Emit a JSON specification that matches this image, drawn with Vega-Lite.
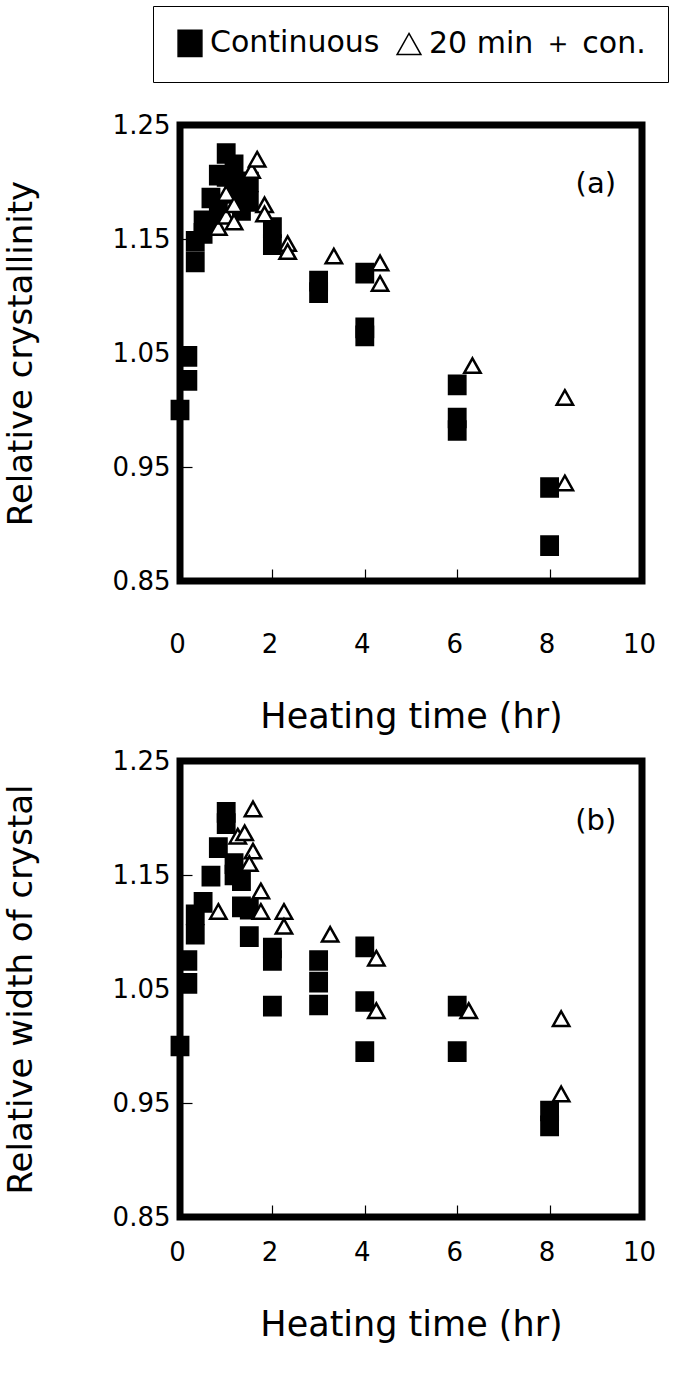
{
  "$schema": "https://vega.github.io/schema/vega-lite/v6.json",
  "background": "white",
  "padding": {"left": 0, "top": 5, "right": 5, "bottom": 5},
  "datasets": {
    "a": [
      {"series": "Continuous", "time": 0, "value": 1.0},
      {"series": "Continuous", "time": 0.17, "value": 1.047},
      {"series": "Continuous", "time": 0.17, "value": 1.026},
      {"series": "Continuous", "time": 0.33, "value": 1.148},
      {"series": "Continuous", "time": 0.33, "value": 1.13},
      {"series": "Continuous", "time": 0.5, "value": 1.166},
      {"series": "Continuous", "time": 0.5, "value": 1.155},
      {"series": "Continuous", "time": 0.67, "value": 1.186},
      {"series": "Continuous", "time": 0.67, "value": 1.165},
      {"series": "Continuous", "time": 0.83, "value": 1.206},
      {"series": "Continuous", "time": 0.83, "value": 1.175},
      {"series": "Continuous", "time": 1.0, "value": 1.225},
      {"series": "Continuous", "time": 1.0, "value": 1.205},
      {"series": "Continuous", "time": 1.17, "value": 1.215},
      {"series": "Continuous", "time": 1.17, "value": 1.19},
      {"series": "Continuous", "time": 1.33, "value": 1.2},
      {"series": "Continuous", "time": 1.33, "value": 1.175},
      {"series": "Continuous", "time": 1.5, "value": 1.2},
      {"series": "Continuous", "time": 1.5, "value": 1.183},
      {"series": "Continuous", "time": 2, "value": 1.16},
      {"series": "Continuous", "time": 2, "value": 1.145},
      {"series": "Continuous", "time": 3, "value": 1.113},
      {"series": "Continuous", "time": 3, "value": 1.103},
      {"series": "Continuous", "time": 4, "value": 1.12},
      {"series": "Continuous", "time": 4, "value": 1.072},
      {"series": "Continuous", "time": 4, "value": 1.065},
      {"series": "Continuous", "time": 6, "value": 1.022},
      {"series": "Continuous", "time": 6, "value": 0.993},
      {"series": "Continuous", "time": 6, "value": 0.982},
      {"series": "Continuous", "time": 8, "value": 0.932},
      {"series": "Continuous", "time": 8, "value": 0.881},
      {"series": "20 min ＋ con.", "time": 0.83, "value": 1.16},
      {"series": "20 min ＋ con.", "time": 1.0, "value": 1.17},
      {"series": "20 min ＋ con.", "time": 1.17, "value": 1.165},
      {"series": "20 min ＋ con.", "time": 1.0, "value": 1.19},
      {"series": "20 min ＋ con.", "time": 1.17, "value": 1.18},
      {"series": "20 min ＋ con.", "time": 1.55, "value": 1.21},
      {"series": "20 min ＋ con.", "time": 1.67, "value": 1.22},
      {"series": "20 min ＋ con.", "time": 1.83, "value": 1.18},
      {"series": "20 min ＋ con.", "time": 1.83, "value": 1.172},
      {"series": "20 min ＋ con.", "time": 2.33, "value": 1.146},
      {"series": "20 min ＋ con.", "time": 2.33, "value": 1.139},
      {"series": "20 min ＋ con.", "time": 3.33, "value": 1.135},
      {"series": "20 min ＋ con.", "time": 4.33, "value": 1.129},
      {"series": "20 min ＋ con.", "time": 4.33, "value": 1.111},
      {"series": "20 min ＋ con.", "time": 6.33, "value": 1.039},
      {"series": "20 min ＋ con.", "time": 8.33, "value": 1.011},
      {"series": "20 min ＋ con.", "time": 8.33, "value": 0.936}
    ],
    "b": [
      {"series": "Continuous", "time": 0, "value": 1.0},
      {"series": "Continuous", "time": 0.17, "value": 1.075},
      {"series": "Continuous", "time": 0.17, "value": 1.055},
      {"series": "Continuous", "time": 0.33, "value": 1.115},
      {"series": "Continuous", "time": 0.33, "value": 1.098},
      {"series": "Continuous", "time": 0.5, "value": 1.126},
      {"series": "Continuous", "time": 0.67, "value": 1.149},
      {"series": "Continuous", "time": 0.83, "value": 1.174},
      {"series": "Continuous", "time": 1.0, "value": 1.205},
      {"series": "Continuous", "time": 1.0, "value": 1.195},
      {"series": "Continuous", "time": 1.17, "value": 1.16},
      {"series": "Continuous", "time": 1.17, "value": 1.15},
      {"series": "Continuous", "time": 1.33, "value": 1.145},
      {"series": "Continuous", "time": 1.33, "value": 1.122},
      {"series": "Continuous", "time": 1.5, "value": 1.12},
      {"series": "Continuous", "time": 1.5, "value": 1.096},
      {"series": "Continuous", "time": 2, "value": 1.086},
      {"series": "Continuous", "time": 2, "value": 1.075},
      {"series": "Continuous", "time": 2, "value": 1.035},
      {"series": "Continuous", "time": 3, "value": 1.075},
      {"series": "Continuous", "time": 3, "value": 1.056},
      {"series": "Continuous", "time": 3, "value": 1.036},
      {"series": "Continuous", "time": 4, "value": 1.087},
      {"series": "Continuous", "time": 4, "value": 1.039},
      {"series": "Continuous", "time": 4, "value": 0.995},
      {"series": "Continuous", "time": 6, "value": 1.035},
      {"series": "Continuous", "time": 6, "value": 0.995},
      {"series": "Continuous", "time": 8, "value": 0.943},
      {"series": "Continuous", "time": 8, "value": 0.93},
      {"series": "20 min ＋ con.", "time": 0.83, "value": 1.118},
      {"series": "20 min ＋ con.", "time": 1.25, "value": 1.184},
      {"series": "20 min ＋ con.", "time": 1.4, "value": 1.187},
      {"series": "20 min ＋ con.", "time": 1.58, "value": 1.208},
      {"series": "20 min ＋ con.", "time": 1.58, "value": 1.171},
      {"series": "20 min ＋ con.", "time": 1.5, "value": 1.16},
      {"series": "20 min ＋ con.", "time": 1.75, "value": 1.136},
      {"series": "20 min ＋ con.", "time": 1.75, "value": 1.118},
      {"series": "20 min ＋ con.", "time": 2.25, "value": 1.118},
      {"series": "20 min ＋ con.", "time": 2.25, "value": 1.105},
      {"series": "20 min ＋ con.", "time": 3.25, "value": 1.098},
      {"series": "20 min ＋ con.", "time": 4.25, "value": 1.077},
      {"series": "20 min ＋ con.", "time": 4.25, "value": 1.031},
      {"series": "20 min ＋ con.", "time": 6.25, "value": 1.031},
      {"series": "20 min ＋ con.", "time": 8.25, "value": 1.024},
      {"series": "20 min ＋ con.", "time": 8.25, "value": 0.958}
    ]
  },
  "config": {
    "view": {"stroke": "black", "strokeWidth": 7},
    "font": "DejaVu Sans",
    "axis": {
      "grid": false,
      "domain": false,
      "ticks": true,
      "tickColor": "black",
      "tickSize": -12,
      "tickWidth": 1.2,
      "labelFlush": false,
      "labelFont": "DejaVu Sans",
      "labelFontSize": 26,
      "labelColor": "black",
      "titleFont": "DejaVu Sans",
      "titleFontSize": 34,
      "titleFontWeight": "normal",
      "titleColor": "black"
    },
    "axisX": {"labelPadding": 62, "titlePadding": 42, "labelOffset": -3, "titleFontSize": 35},
    "axisY": {"labelPadding": 22, "titlePadding": 74},
    "legend": {
      "orient": "none",
      "legendX": -27,
      "legendY": -119,
      "direction": "horizontal",
      "labelFontSize": 30,
      "labelFont": "DejaVu Sans",
      "labelColor": "black",
      "labelLimit": 600,
      "symbolSize": 700,
      "symbolStrokeWidth": 1.5,
      "symbolStrokeColor": "black",
      "strokeColor": "black",
      "padding": 22,
      "labelOffset": 5,
      "columnPadding": 14
    }
  },
  "spacing": 6,
  "resolve": {"scale": {"shape": "shared", "fill": "shared", "stroke": "shared"}},
  "vconcat": [
    {
      "width": 462,
      "height": 456,
      "layer": [
        {
          "data": {"name": "a"},
          "mark": {"type": "point", "filled": true, "strokeWidth": 2.5, "opacity": 1},
          "encoding": {
            "x": {"field": "time", "type": "quantitative", "scale": {"domain": [0, 10], "nice": false}, "axis": {"values": [0, 2, 4, 6, 8, 10], "title": "Heating time (hr)"}},
            "y": {"field": "value", "type": "quantitative", "scale": {"domain": [0.85, 1.25], "nice": false, "zero": false}, "axis": {"values": [0.85, 0.95, 1.05, 1.15, 1.25], "format": ".2f", "title": "Relative crystallinity"}},
            "shape": {"field": "series", "type": "nominal", "scale": {"domain": ["Continuous", "20 min ＋ con."], "range": ["M-0.9,-1H0.9V1H-0.9Z", "M0,-0.8L0.9,0.8L-0.9,0.8Z"]}, "legend": {"title": null}},
            "fill": {"field": "series", "type": "nominal", "scale": {"domain": ["Continuous", "20 min ＋ con."], "range": ["black", "white"]}, "legend": {"title": null}},
            "stroke": {"field": "series", "type": "nominal", "scale": {"domain": ["Continuous", "20 min ＋ con."], "range": ["black", "black"]}, "legend": {"title": null}},
            "size": {"value": 330}
          }
        },
        {
          "data": {"values": [{"x": 9.0, "y": 1.198, "label": "(a)"}]},
          "mark": {"type": "text", "fontSize": 29, "font": "DejaVu Sans", "color": "black"},
          "encoding": {
            "x": {"field": "x", "type": "quantitative"},
            "y": {"field": "y", "type": "quantitative"},
            "text": {"field": "label"}
          }
        }
      ]
    },
    {
      "width": 462,
      "height": 456,
      "layer": [
        {
          "data": {"name": "b"},
          "mark": {"type": "point", "filled": true, "strokeWidth": 2.5, "opacity": 1},
          "encoding": {
            "x": {"field": "time", "type": "quantitative", "scale": {"domain": [0, 10], "nice": false}, "axis": {"values": [0, 2, 4, 6, 8, 10], "title": "Heating time (hr)", "labelPadding": 34}},
            "y": {"field": "value", "type": "quantitative", "scale": {"domain": [0.85, 1.25], "nice": false, "zero": false}, "axis": {"values": [0.85, 0.95, 1.05, 1.15, 1.25], "format": ".2f", "title": "Relative width of crystal"}},
            "shape": {"field": "series", "type": "nominal", "legend": null},
            "fill": {"field": "series", "type": "nominal", "legend": null},
            "stroke": {"field": "series", "type": "nominal", "legend": null},
            "size": {"value": 330}
          }
        },
        {
          "data": {"values": [{"x": 9.0, "y": 1.197, "label": "(b)"}]},
          "mark": {"type": "text", "fontSize": 29, "font": "DejaVu Sans", "color": "black"},
          "encoding": {
            "x": {"field": "x", "type": "quantitative"},
            "y": {"field": "y", "type": "quantitative"},
            "text": {"field": "label"}
          }
        }
      ]
    }
  ]
}
